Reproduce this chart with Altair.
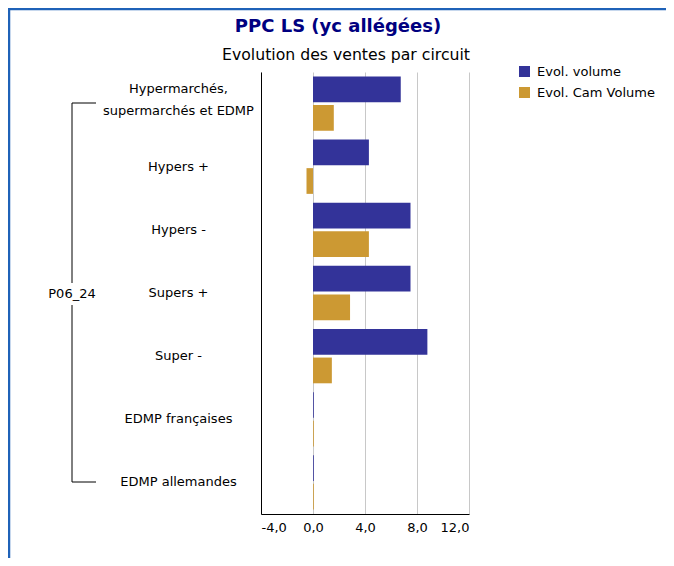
import altair as alt
import pandas as pd

categories = [
    "Hypermarchés,|supermarchés et EDMP",
    "Hypers +",
    "Hypers -",
    "Supers +",
    "Super -",
    "EDMP françaises",
    "EDMP allemandes",
]
series = ["Evol. volume", "Evol. Cam Volume"]
evol_volume = [6.75, 4.3, 7.5, 7.5, 8.8, 0.06, 0.06]
evol_cam_volume = [1.6, -0.5, 4.3, 2.85, 1.45, 0.06, 0.06]
colors = ["#333399", "#CC9933"]
x_ticks = [-4, 0, 4, 8, 12]
group_label = "P06_24"
title_text = "PPC LS (yc allégées)"
subtitle_text = "Evolution des ventes par circuit"

FONT = "DejaVu Sans"

rows = []
for i, c in enumerate(categories):
    rows.append({"category": c, "series": series[0], "value": evol_volume[i]})
    rows.append({"category": c, "series": series[1], "value": evol_cam_volume[i]})
df = pd.DataFrame(rows)
one = pd.DataFrame({"a": [0]})

W, H = 208, 442
PL, PT, PR, PB = 253, 64, 197, 44

bars = alt.Chart(df).mark_bar().encode(
    x=alt.X(
        "value:Q",
        scale=alt.Scale(domain=[-4, 12], nice=False, zero=False),
        axis=alt.Axis(
            values=x_ticks,
            labelExpr="replace(replace(format(datum.value, '.1f'), '.', ','), '\u2212', '-')",
            grid=True,
            gridColor="#c8c8c8",
            domainColor="black",
            ticks=False,
            labelPadding=7,
            labelFontSize=13,
            labelFont=FONT,
            labelColor="black",
            title=None,
        ),
    ),
    y=alt.Y(
        "category:N",
        sort=categories,
        scale=alt.Scale(paddingInner=0.14, paddingOuter=0.07),
        axis=alt.Axis(
            title=None,
            ticks=False,
            labelAlign="center",
            labelPadding=83,
            domainColor="black",
            labelFontSize=13,
            labelFont=FONT,
            labelColor="black",
            labelLimit=400,
            labelLineHeight=22,
            labelOffset={
                "condition": {"test": "indexof(datum.value, '|') >= 0", "value": -15},
                "value": 0,
            },
            labelExpr="split(datum.label, '|')",
        ),
    ),
    yOffset=alt.YOffset("series:N", sort=series, scale=alt.Scale(paddingInner=0.1)),
    color=alt.Color(
        "series:N",
        sort=series,
        scale=alt.Scale(domain=series, range=colors),
        legend=alt.Legend(
            title=None,
            orient="none",
            legendX=257,
            legendY=-7,
            symbolType="square",
            symbolSize=121,
            symbolStrokeWidth=0,
            labelFontSize=13,
            labelFont=FONT,
            labelColor="black",
            rowPadding=7,
            labelOffset=6,
        ),
    ),
)

BORDER = "#1F62B8"
border_top = alt.Chart(one).mark_rule(color=BORDER, strokeWidth=2.5, clip=False).encode(
    x=alt.value(-PL), x2=alt.value(W + PR), y=alt.value(-PT + 1)
)
border_left = alt.Chart(one).mark_rule(color=BORDER, strokeWidth=2.5, clip=False).encode(
    x=alt.value(-PL + 1), y=alt.value(-PT), y2=alt.value(H + PB)
)

rule_top = alt.Chart(one).mark_rule(color="black", clip=False).encode(
    x=alt.value(-189), x2=alt.value(-165), y=alt.value(31)
)
rule_bottom = alt.Chart(one).mark_rule(color="black", clip=False).encode(
    x=alt.value(-189), x2=alt.value(-165), y=alt.value(410)
)
rule_v1 = alt.Chart(one).mark_rule(color="black", clip=False).encode(
    x=alt.value(-189), y=alt.value(31), y2=alt.value(211)
)
rule_v2 = alt.Chart(one).mark_rule(color="black", clip=False).encode(
    x=alt.value(-189), y=alt.value(233), y2=alt.value(410)
)
group_text = alt.Chart(one).mark_text(
    font=FONT, fontSize=13, color="black", align="center", baseline="middle"
).encode(x=alt.value(-189), y=alt.value(222), text=alt.value(group_label))

title_mark = alt.Chart(one).mark_text(
    font=FONT, fontSize=18, fontWeight="bold", color="#000080",
    align="center", baseline="middle"
).encode(x=alt.value(77), y=alt.value(-45), text=alt.value(title_text))
subtitle_mark = alt.Chart(one).mark_text(
    font=FONT, fontSize=15.7, color="black", align="center", baseline="middle"
).encode(x=alt.value(85), y=alt.value(-17), text=alt.value(subtitle_text))

chart = alt.layer(
    bars, border_top, border_left, rule_top, rule_bottom, rule_v1, rule_v2,
    group_text, title_mark, subtitle_mark
).properties(
    width=W,
    height=H,
    autosize=alt.AutoSizeParams(type="none"),
    padding={"left": PL, "top": PT, "right": PR, "bottom": PB},
    background="white",
).configure_view(stroke=None)

chart.save("out.html", embed_options={"renderer": "svg", "actions": False})
